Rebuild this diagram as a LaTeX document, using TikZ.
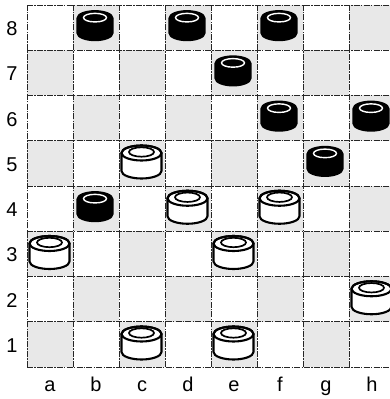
\documentclass[tikz,border=0pt]{standalone}
\usepackage{fontspec}
\setmainfont{Liberation Sans}
\begin{document}
\begin{tikzpicture}[x=1pt,y=1pt,
  gridline/.style={line width=0.9pt, black!85, dash pattern=on 6pt off 1.2pt on 1.5pt off 1.2pt},
  darksq/.style={fill=black!9},
  lbl/.style={font=\fontsize{20}{20}\selectfont, inner sep=0pt, anchor=base},
  pline/.style={line width=2.1pt, black},
  wpiece/.pic={
    \filldraw[pline, fill=white, line join=round] (-20,9) -- (-20,-9) arc[start angle=180, end angle=360, x radius=20, y radius=7.5] -- (20,9) arc[start angle=0, end angle=180, x radius=20, y radius=7.5] -- cycle;
    \draw[pline] (0,9) ellipse[x radius=20, y radius=7.5];
    \draw[line width=1.7pt] (0,10) ellipse[x radius=12.5, y radius=4.7];
  },
  bpiece/.pic={
    \filldraw[pline, fill=black, line join=round] (-17.5,7.5) -- (-17.5,-7.5) arc[start angle=180, end angle=360, x radius=17.5, y radius=7] -- (17.5,7.5) arc[start angle=0, end angle=180, x radius=17.5, y radius=7] -- cycle;
    \draw[white, line width=1.4pt] (0,8) ellipse[x radius=11.5, y radius=4.3];
  }]
\useasboundingbox (0,0) rectangle (390,399);
\clip (0,0) rectangle (390,399);
\fill[white] (0,0) rectangle (390,399);
% dark squares
\foreach \i in {1,...,8} {
  \foreach \j in {1,...,8} {
    \pgfmathtruncatemacro{\sqpar}{mod(\i+\j,2)}
    \ifnum\sqpar=0
      \fill[darksq] ({27+46*(\i-1)},{32+45.25*(\j-1)}) rectangle ({27+46*\i},{32+45.25*\j});
    \fi
  }
}
% grid
\foreach \k in {0,...,8} {
  \draw[gridline] ({27+46*\k},32) -- ({27+46*\k},394);
  \draw[gridline] (27,{32+45.25*\k}) -- (395,{32+45.25*\k});
}
% labels
\foreach \r in {1,...,8} {
  \node[lbl] (row\r) at (12,{32+45.25*(\r-0.5)-8}) {\r};
}
\foreach \f/\c in {1/a,2/b,3/c,4/d,5/e,6/f,7/g,8/h} {
  \node[lbl] (col\c) at ({27+46*(\f-0.5)},8) {\c};
}
% black pieces
\foreach \f/\r in {2/8,4/8,6/8,5/7,6/6,8/6,7/5,2/4} {
  \pic at ({27+46*(\f-1)+22},{32+45.25*(\r-1)+24.6}) {bpiece};
}
% white pieces
\foreach \f/\r in {3/5,4/4,6/4,1/3,5/3,8/2,3/1,5/1} {
  \pic at ({27+46*(\f-1)+22.5},{32+45.25*(\r-1)+24}) {wpiece};
}
\end{tikzpicture}
\end{document}
